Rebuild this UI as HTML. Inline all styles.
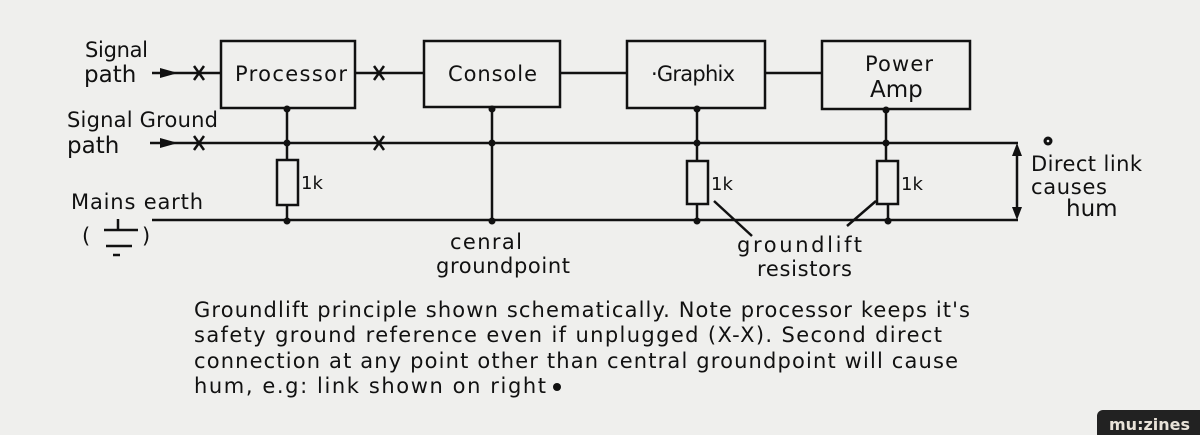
<!DOCTYPE html>
<html><head><meta charset="utf-8"><style>
html,body{margin:0;padding:0;background:#efefed;}
svg{display:block}
text{font-family:"DejaVu Sans","Liberation Sans",sans-serif;fill:#111;}
</style></head><body>
<svg width="1200" height="435" viewBox="0 0 1200 435" xmlns="http://www.w3.org/2000/svg">
<rect width="1200" height="435" fill="#efefed"/>
<g stroke="#111" stroke-width="2.5" fill="none">
<rect x="221" y="41" width="134" height="67"/>
<rect x="424" y="41" width="136" height="66"/>
<rect x="627" y="41" width="138" height="67"/>
<rect x="822" y="41" width="148" height="68"/>
<line x1="152" y1="73" x2="221" y2="73"/>
<line x1="355" y1="73" x2="424" y2="73"/>
<line x1="560" y1="73" x2="627" y2="73"/>
<line x1="765" y1="73" x2="822" y2="73"/>
<line x1="150" y1="143" x2="1018" y2="143"/>
<line x1="152" y1="220" x2="1018" y2="220"/>
<line x1="287" y1="108" x2="287" y2="160"/>
<line x1="287" y1="205" x2="287" y2="220"/>
<rect x="277" y="160" width="21" height="45"/>
<line x1="492" y1="107" x2="492" y2="220"/>
<line x1="697" y1="108" x2="697" y2="161"/>
<line x1="697" y1="204" x2="697" y2="220"/>
<rect x="687" y="161" width="21" height="43"/>
<line x1="886" y1="109" x2="886" y2="161"/>
<line x1="888" y1="204" x2="888" y2="220"/>
<rect x="877" y="161" width="21" height="43"/>
<line x1="714" y1="201" x2="752" y2="236"/>
<line x1="876" y1="201" x2="847" y2="226"/>
<line x1="1017" y1="150" x2="1017" y2="213"/>
<path d="M194 66 L204 80 M204 66 L194 80"/>
<path d="M374 66 L384 80 M384 66 L374 80"/>
<path d="M194 136 L204 150 M204 136 L194 150"/>
<path d="M374 136 L384 150 M384 136 L374 150"/>
<line x1="104" y1="230" x2="138" y2="230"/>
<line x1="118" y1="219" x2="118" y2="230"/>
<line x1="106" y1="246" x2="132" y2="246"/>
<line x1="113" y1="255" x2="120" y2="255"/>
</g>
<g fill="#111">
<path d="M1017 143 L1012 156 L1022 156 Z"/>
<path d="M1017 220 L1012 207 L1022 207 Z"/>
<path d="M178 73 L160 68 L160 78 Z"/>
<path d="M178 143 L160 138 L160 148 Z"/>
<circle cx="287" cy="109" r="3.5"/><circle cx="287" cy="143" r="3.5"/><circle cx="287" cy="221" r="3.5"/>
<circle cx="492" cy="109" r="3.5"/><circle cx="492" cy="143" r="3.5"/><circle cx="492" cy="221" r="3.5"/>
<circle cx="697" cy="109" r="3.5"/><circle cx="697" cy="143" r="3.5"/><circle cx="697" cy="221" r="3.5"/>
<circle cx="886" cy="110" r="3.5"/><circle cx="886" cy="143" r="3.5"/><circle cx="888" cy="221" r="3.5"/>
<circle cx="1048" cy="141" r="4.5"/>
<circle cx="557" cy="387" r="4"/>
</g>
<circle cx="1048" cy="141" r="1.3" fill="#efefed"/>
<g font-size="21" lengthAdjust="spacingAndGlyphs">
<text x="85" y="57" textLength="63">Signal</text>
<text x="84" y="82" font-size="23">path</text>
<text x="67" y="127" textLength="151">Signal Ground</text>
<text x="67" y="153" font-size="23">path</text>
<text x="71" y="209" textLength="132">Mains earth</text>
<text x="82" y="243">(</text><text x="142" y="243">)</text>
<text x="235" y="81" textLength="112">Processor</text>
<text x="448" y="81" textLength="89">Console</text>
<text x="651" y="81" textLength="84">·Graphix</text>
<text x="865" y="71" textLength="68">Power</text>
<text x="870" y="97" font-size="23">Amp</text>
<text x="301" y="189" font-size="18">1k</text>
<text x="711" y="190" font-size="18">1k</text>
<text x="901" y="190" font-size="18">1k</text>
<text x="1031" y="171" textLength="111">Direct link</text>
<text x="1031" y="194" textLength="76">causes</text>
<text x="1066" y="216" font-size="23">hum</text>
<text x="450" y="249" textLength="72">cenral</text>
<text x="436" y="273" textLength="134">groundpoint</text>
<text x="737" y="252" textLength="125">groundlift</text>
<text x="757" y="276" textLength="95">resistors</text>
<text x="194" y="317" textLength="776">Groundlift principle shown schematically. Note processor keeps it's</text>
<text x="194" y="342" textLength="748">safety  ground reference even if unplugged (X-X).  Second direct</text>
<text x="194" y="368" textLength="764">connection at any point other than  central groundpoint will cause</text>
<text x="194" y="393" textLength="352">hum, e.g: link shown  on right</text>
</g>
<rect x="1097" y="410" width="110" height="30" rx="6" fill="#222"/>
<text x="1109" y="430" font-size="16" font-weight="bold" style="fill:#e8e2d8">mu:zines</text>
</svg>
</body></html>
